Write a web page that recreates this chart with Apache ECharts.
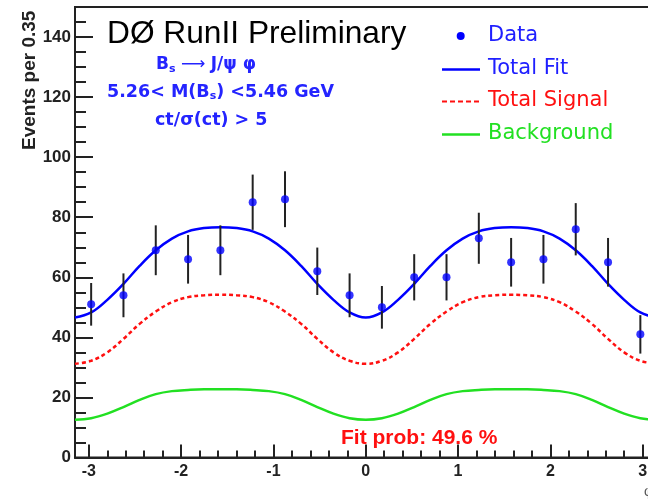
<!DOCTYPE html>
<html>
<head>
<meta charset="utf-8">
<script src="https://cdn.jsdelivr.net/npm/echarts@6/dist/echarts.min.js"></script>
<style>
  html, body { margin: 0; padding: 0; overflow: hidden; background: #fff; }
  #chart { width: 700px; height: 500px; }
</style>
</head>
<body>
<div id="chart"></div>
<script>
// Bin centres (bin width 0.35) and event counts per bin
const binCentres = [-2.975, -2.625, -2.275, -1.925, -1.575, -1.225, -0.875, -0.525, -0.175,
                    0.175, 0.525, 0.875, 1.225, 1.575, 1.925, 2.275, 2.625, 2.975];
const counts = [51, 54, 69, 66, 69, 85, 86, 62, 54, 50, 60, 60, 73, 65, 66, 76, 65, 41];
const countErrors = [7.1, 7.3, 8.3, 8.1, 8.3, 9.2, 9.3, 7.9, 7.3, 7.1, 7.7, 7.7, 8.5, 8.1, 8.1, 8.7, 8.1, 6.4];

// Fit curves sampled along phi
const curveX = [-3.15, -2.975, -2.8, -2.625, -2.45, -2.275, -2.1, -1.925, -1.75, -1.575, -1.4, -1.225,
                -1.05, -0.875, -0.7, -0.525, -0.35, -0.175, 0, 0.175, 0.35, 0.525, 0.7, 0.875,
                1.05, 1.225, 1.4, 1.575, 1.75, 1.925, 2.1, 2.275, 2.45, 2.625, 2.8, 2.975, 3.15];
const totalFit = [46.6, 48.3, 52.5, 57.8, 63.8, 69.0, 72.9, 75.3, 76.4, 76.7, 76.4, 75.3,
                  72.9, 69.0, 63.8, 57.8, 52.5, 48.3, 46.6, 48.3, 52.5, 57.8, 63.8, 69.0,
                  72.9, 75.3, 76.4, 76.7, 76.4, 75.3, 72.9, 69.0, 63.8, 57.8, 52.5, 48.3, 46.6];
const totalSignal = [31.2, 32.2, 35.0, 39.5, 44.5, 48.6, 51.7, 53.4, 54.0, 54.2, 54.0, 53.4,
                     51.7, 48.6, 44.5, 39.5, 35.0, 32.2, 31.2, 32.2, 35.0, 39.5, 44.5, 48.6,
                     51.7, 53.4, 54.0, 54.2, 54.0, 53.4, 51.7, 48.6, 44.5, 39.5, 35.0, 32.2, 31.2];
const background = [12.6, 13.1, 14.6, 16.8, 19.2, 21.1, 22.1, 22.5, 22.7, 22.7, 22.7, 22.5,
                    22.1, 21.1, 19.2, 16.8, 14.6, 13.1, 12.6, 13.1, 14.6, 16.8, 19.2, 21.1,
                    22.1, 22.5, 22.7, 22.7, 22.7, 22.5, 22.1, 21.1, 19.2, 16.8, 14.6, 13.1, 12.6];

// Axis ticks
const xMajorTicks = [-3, -2, -1, 0, 1, 2, 3];
const xMinorTicks = [-2.8, -2.6, -2.4, -2.2, -1.8, -1.6, -1.4, -1.2, -0.8, -0.6, -0.4, -0.2,
                     0.2, 0.4, 0.6, 0.8, 1.2, 1.4, 1.6, 1.8, 2.2, 2.4, 2.6, 2.8];
const yMajorTicks = [0, 20, 40, 60, 80, 100, 120, 140];
const yMinorTicks = [5, 10, 15, 25, 30, 35, 45, 50, 55, 65, 70, 75, 85, 90, 95,
                     105, 110, 115, 125, 130, 135, 145];

const BLUE = '#0000ff', RED = '#ff1010', GREEN = '#22e022', AXIS = '#222', TEXT_BLUE = '#2424ff';
const zip = (xs, ys) => xs.map((x, i) => [x, ys[i]]);

const chart = echarts.init(document.getElementById('chart'), null, { renderer: 'canvas' });

const axisFont = '"Liberation Sans", Arial, sans-serif';
const xBase = { type: 'value', min: -3.15, max: 3.15, position: 'bottom', gridIndex: 0, splitLine: { show: false } };
const yBase = { type: 'value', min: 0, max: 150, position: 'left', gridIndex: 0, splitLine: { show: false } };
const centred = { align: 'left', verticalAlign: 'middle', textAlign: 'left', textVerticalAlign: 'middle' };

chart.setOption({
  animation: false,
  backgroundColor: '#fff',
  grid: {
    left: 75, top: 7, width: 581.5, height: 450.5,
    show: true, borderColor: AXIS, borderWidth: 2, backgroundColor: 'transparent',
    containLabel: false, outerBoundsMode: 'none'
  },
  xAxis: [
    Object.assign({}, xBase, {
      axisLine: { onZero: false, lineStyle: { color: AXIS, width: 2 } },
      axisTick: { inside: true, length: 13, customValues: xMajorTicks, lineStyle: { color: AXIS, width: 2 } },
      axisLabel: { customValues: xMajorTicks, fontSize: 16, fontWeight: 'bold', color: AXIS, margin: 6, fontFamily: axisFont }
    }),
    Object.assign({}, xBase, {
      axisLine: { show: false, onZero: false },
      axisTick: { inside: true, length: 7, customValues: xMinorTicks, lineStyle: { color: AXIS, width: 2 } },
      axisLabel: { show: false }
    })
  ],
  yAxis: [
    Object.assign({}, yBase, {
      axisLine: { onZero: false, lineStyle: { color: AXIS, width: 2 } },
      axisTick: { inside: true, length: 18, customValues: yMajorTicks, lineStyle: { color: AXIS, width: 2 } },
      axisLabel: { customValues: yMajorTicks, fontSize: 17, fontWeight: 'bold', color: AXIS, margin: 4, fontFamily: axisFont }
    }),
    Object.assign({}, yBase, {
      axisLine: { show: false, onZero: false },
      axisTick: { inside: true, length: 11, customValues: yMinorTicks, lineStyle: { color: AXIS, width: 2 } },
      axisLabel: { show: false }
    })
  ],
  series: [
    {
      name: 'Background', type: 'line', xAxisIndex: 0, yAxisIndex: 0,
      data: zip(curveX, background), smooth: 0.4, showSymbol: false,
      lineStyle: { color: GREEN, width: 2.5 }, z: 2
    },
    {
      name: 'Total Signal', type: 'line', xAxisIndex: 0, yAxisIndex: 0,
      data: zip(curveX, totalSignal), smooth: 0.4, showSymbol: false,
      lineStyle: { color: RED, width: 2.5, type: [4, 3] }, z: 2
    },
    {
      name: 'Total Fit', type: 'line', xAxisIndex: 0, yAxisIndex: 0,
      data: zip(curveX, totalFit), smooth: 0.4, showSymbol: false,
      lineStyle: { color: BLUE, width: 2.5 }, z: 3
    },
    {
      name: 'Errors', type: 'custom', xAxisIndex: 0, yAxisIndex: 0,
      data: binCentres.map((x, i) => [x, counts[i], countErrors[i]]),
      encode: { x: 0, y: 1 },
      renderItem: function (params, api) {
        const x = api.value(0), y = api.value(1), e = api.value(2);
        const lo = api.coord([x, y - e]);
        const hi = api.coord([x, y + e]);
        return {
          type: 'line',
          shape: { x1: lo[0], y1: lo[1], x2: hi[0], y2: hi[1] },
          style: { stroke: AXIS, lineWidth: 2 }
        };
      },
      z: 4
    },
    {
      name: 'Data', type: 'scatter', xAxisIndex: 0, yAxisIndex: 0,
      data: zip(binCentres, counts), symbol: 'circle', symbolSize: 8,
      itemStyle: { color: BLUE }, z: 5
    }
  ],
  graphic: [
    // y-axis title
    { type: 'text', x: 29.5, y: 150, rotation: Math.PI / 2,
      style: Object.assign({ text: 'Events per 0.35', font: 'bold 19px "Liberation Sans", Arial, sans-serif', fill: AXIS }, centred) },
    // experiment label
    { type: 'text', x: 107, y: 34,
      style: Object.assign({ text: 'DØ RunII Preliminary', font: '31.7px "Liberation Sans", Arial, sans-serif', fill: '#000' }, centred) },
    // selection text
    { type: 'text', x: 156, y: 65,
      style: Object.assign({
        text: '{b|B}{s|s}{a| ⟶ }{b|J/ψ φ}',
        rich: {
          b: { font: 'bold 17px "DejaVu Sans", sans-serif', fill: TEXT_BLUE },
          a: { font: '17px "DejaVu Sans", sans-serif', fill: TEXT_BLUE },
          s: { font: 'bold 11px "DejaVu Sans", sans-serif', fill: TEXT_BLUE, padding: [8, 0, 0, 0] }
        }
      }, centred) },
    { type: 'text', x: 107, y: 92,
      style: Object.assign({
        text: '{b|5.26< M(B}{s|s}{b|) <5.46 GeV}',
        rich: {
          b: { font: 'bold 17.5px "DejaVu Sans", sans-serif', fill: TEXT_BLUE },
          s: { font: 'bold 11px "DejaVu Sans", sans-serif', fill: TEXT_BLUE, padding: [8, 0, 0, 0] }
        }
      }, centred) },
    { type: 'text', x: 155, y: 120,
      style: Object.assign({ text: 'ct/σ(ct) > 5', font: 'bold 17.5px "DejaVu Sans", sans-serif', fill: TEXT_BLUE }, centred) },
    // legend
    { type: 'circle', shape: { cx: 460.7, cy: 36, r: 4 }, style: { fill: BLUE }, z: 10 },
    { type: 'text', x: 488, y: 36,
      style: Object.assign({ text: 'Data', font: '21px "DejaVu Sans", sans-serif', fill: '#2020ff' }, centred) },
    { type: 'line', shape: { x1: 442, y1: 69.5, x2: 480, y2: 69.5 }, style: { stroke: BLUE, lineWidth: 2.5 }, z: 10 },
    { type: 'text', x: 488, y: 69,
      style: Object.assign({ text: 'Total Fit', font: '21px "DejaVu Sans", sans-serif', fill: '#2020ff' }, centred) },
    { type: 'line', shape: { x1: 442, y1: 101.5, x2: 480, y2: 101.5 }, style: { stroke: RED, lineWidth: 2, lineDash: [5, 3] }, z: 10 },
    { type: 'text', x: 488, y: 101,
      style: Object.assign({ text: 'Total Signal', font: '21px "DejaVu Sans", sans-serif', fill: RED }, centred) },
    { type: 'line', shape: { x1: 442, y1: 134.5, x2: 480, y2: 134.5 }, style: { stroke: GREEN, lineWidth: 2.5 }, z: 10 },
    { type: 'text', x: 488, y: 134,
      style: Object.assign({ text: 'Background', font: '21px "DejaVu Sans", sans-serif', fill: GREEN }, centred) },
    // fit probability
    { type: 'text', x: 341, y: 438,
      style: Object.assign({ text: 'Fit prob: 49.6 %', font: 'bold 21px "Liberation Sans", Arial, sans-serif', fill: RED }, centred) },
    // x-axis title
    { type: 'text', x: 644, y: 492,
      style: Object.assign({ text: 'φ', font: '14px "Liberation Sans", Arial, sans-serif', fill: '#555' }, centred) }
  ]
});
</script>
</body>
</html>
